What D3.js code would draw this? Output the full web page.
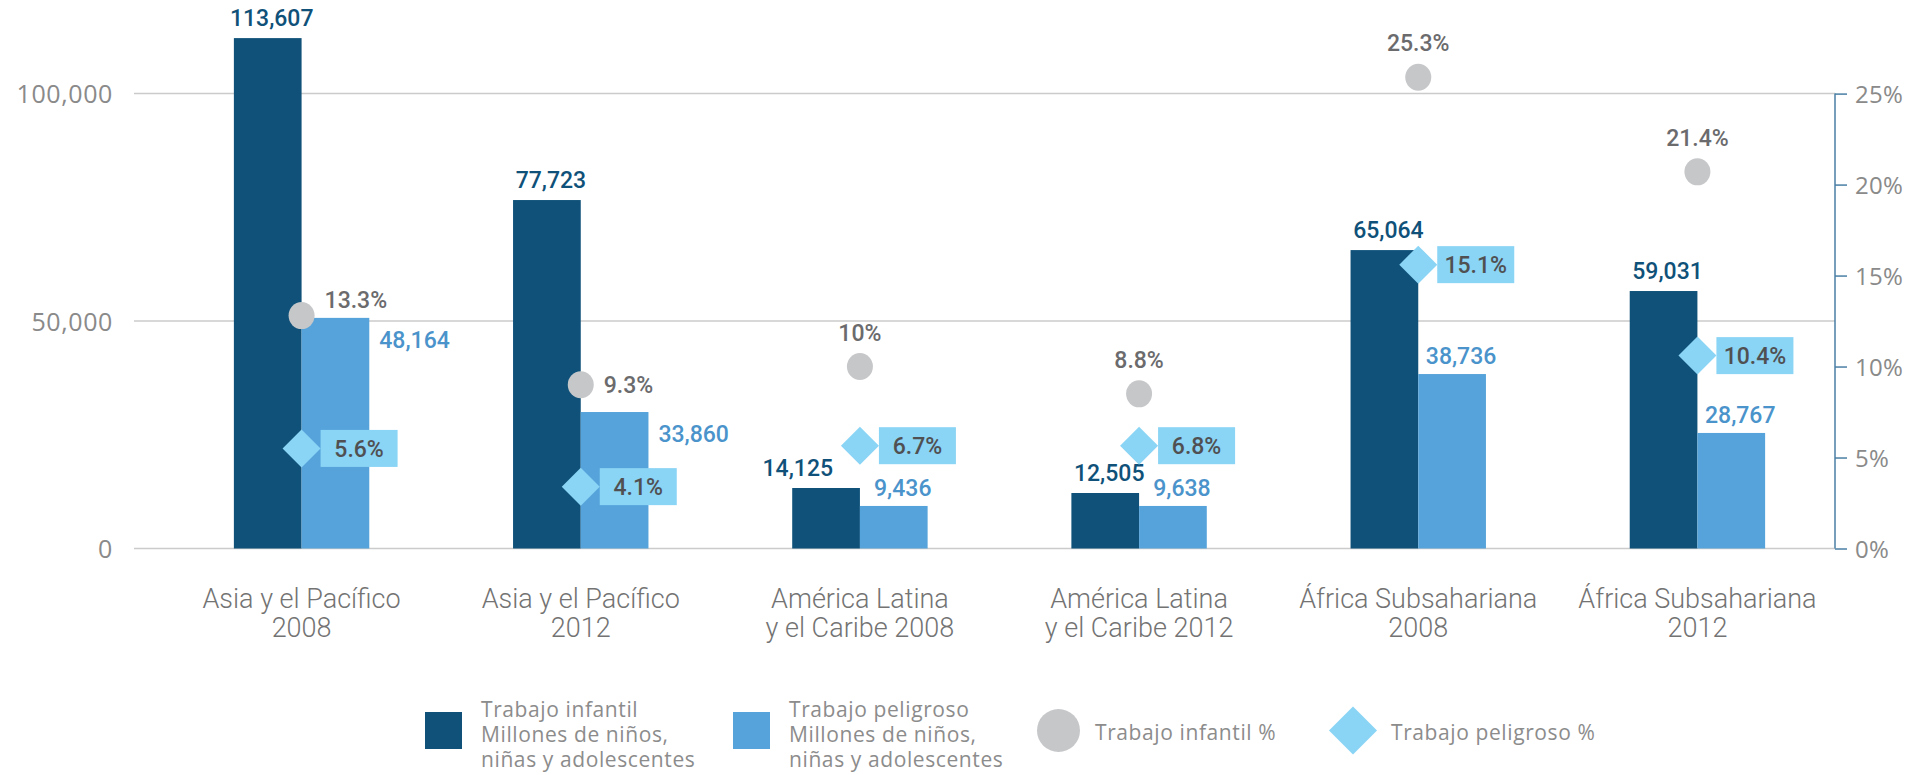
<!DOCTYPE html>
<html>
<head>
<meta charset="utf-8">
<script src="https://cdn.jsdelivr.net/npm/d3@7"></script>
<style>
  html, body { margin: 0; padding: 0; background: #fff; }
  svg { display: block; }
</style>
</head>
<body>
<svg id="chart" width="1930" height="775"></svg>
<script>
// ---------- DATA ----------
const categories = [
  ["Asia y el Pacífico", "2008"],
  ["Asia y el Pacífico", "2012"],
  ["América Latina", "y el Caribe 2008"],
  ["América Latina", "y el Caribe 2012"],
  ["África Subsahariana", "2008"],
  ["África Subsahariana", "2012"]
];
// bar heights as drawn (millions of children, axis units)
const trabajoInfantil = [112200, 76600, 13300, 12200, 65600, 56600];
const trabajoPeligroso = [50700, 30000, 9350, 9350, 38350, 25400];
// value labels printed on the chart
const trabajoInfantilLabels = ["113,607", "77,723", "14,125", "12,505", "65,064", "59,031"];
const trabajoPeligrosoLabels = ["48,164", "33,860", "9,436", "9,638", "38,736", "28,767"];
// percentage markers (right axis) as drawn
const infantilPct = [12.8, 9.0, 10.0, 8.5, 25.9, 20.7];
const peligrosoPct = [5.5, 3.4, 5.65, 5.65, 15.6, 10.6];
const infantilPctLabels = ["13.3%", "9.3%", "10%", "8.8%", "25.3%", "21.4%"];
const peligrosoPctLabels = ["5.6%", "4.1%", "6.7%", "6.8%", "15.1%", "10.4%"];
// axis ticks
const leftTicks = [0, 50000, 100000];
const leftTickLabels = ["0", "50,000", "100,000"];
const rightTicks = [0, 5, 10, 15, 20, 25];
const rightTickLabels = ["0%", "5%", "10%", "15%", "20%", "25%"];
// legend
const legendItems = [
  { type: "rect", color: "dark", lines: ["Trabajo infantil", "Millones de niños,", "niñas y adolescentes"] },
  { type: "rect", color: "light", lines: ["Trabajo peligroso", "Millones de niños,", "niñas y adolescentes"] },
  { type: "circle", color: "gray", lines: ["Trabajo infantil %"] },
  { type: "diamond", color: "sky", lines: ["Trabajo peligroso %"] }
];
// label placement styles
const infantilLabelPlacement = ["top", "top", "topLeft", "top", "top", "top"];
const peligrosoLabelPlacement = ["right", "right", "top", "top", "top", "top"];
const pctLabelPlacement = ["upRight", "right", "top", "top", "top", "top"];

// ---------- STYLE ----------
const C = {
  dark: "#0F5179", light: "#55A3DA", gray: "#C6C7C9", sky: "#8AD4F5",
  darkText: "#0F5179", lightText: "#4A93CB", grayText: "#6B6B6D", boxText: "#505052",
  axisText: "#8A8A8A", grid: "#CBCBCB", rightAxis: "#4A7FA5", catText: "#737373", legendText: "#8C8C8C"
};
const valueFont = "Roboto, 'Noto Sans', sans-serif";
const tickFont = "'Open Sans', 'Noto Sans', sans-serif";

const svg = d3.select("#chart");

const x = d3.scaleBand().domain(d3.range(categories.length)).range([162, 1837]).paddingInner(0).paddingOuter(0);
const y = d3.scaleLinear().domain([0, 100000]).range([548.5, 93.6]);
const yR = d3.scaleLinear().domain([0, 25]).range([548.5, 93.6]);
const barW = 67.7;
const cx = i => x(i) + x.bandwidth() / 2;

// ---------- GRID + LEFT AXIS ----------
const gridLeft = 134, gridRight = 1835;
svg.append("g").selectAll("line").data(leftTicks).join("line")
  .attr("x1", gridLeft).attr("x2", gridRight)
  .attr("y1", d => y(d)).attr("y2", d => y(d))
  .attr("stroke", C.grid).attr("stroke-width", 1.5);

const leftAxis = d3.axisLeft(y).tickValues(leftTicks).tickSize(0).tickPadding(0)
  .tickFormat((d, i) => leftTickLabels[i]);
const gL = svg.append("g").attr("transform", "translate(113,0)").call(leftAxis);
gL.select(".domain").remove();
gL.selectAll("text").attr("font-family", tickFont).attr("font-size", 25)
  .attr("fill", C.axisText).attr("letter-spacing", 0.6).attr("dy", "0.36em");

// ---------- RIGHT AXIS ----------
const rightAxis = d3.axisRight(yR).tickValues(rightTicks).tickSize(12).tickPadding(8)
  .tickFormat((d, i) => rightTickLabels[i]);
const gR = svg.append("g").attr("transform", `translate(${gridRight},0)`).call(rightAxis);
gR.select(".domain").attr("stroke", C.rightAxis).attr("stroke-width", 1.5)
  .attr("d", `M0,${yR(0)}V${yR(25)}`);
gR.selectAll(".tick line").attr("stroke", C.rightAxis).attr("stroke-width", 1.5);
gR.selectAll("text").attr("font-family", tickFont).attr("font-size", 24)
  .attr("fill", C.axisText).attr("letter-spacing", 0.3).attr("dy", "0.36em");

// ---------- BARS ----------
svg.append("g").selectAll("rect").data(trabajoInfantil).join("rect")
  .attr("x", (d, i) => cx(i) - barW).attr("width", barW)
  .attr("y", d => y(d)).attr("height", d => y(0) - y(d))
  .attr("fill", C.dark);
svg.append("g").selectAll("rect").data(trabajoPeligroso).join("rect")
  .attr("x", (d, i) => cx(i)).attr("width", barW)
  .attr("y", d => y(d)).attr("height", d => y(0) - y(d))
  .attr("fill", C.light);

// bar value labels
svg.append("g").selectAll("text").data(trabajoInfantil).join("text")
  .attr("x", (d, i) => infantilLabelPlacement[i] === "topLeft" ? cx(i) - barW / 2 + 7 : cx(i) - barW / 2 + 4)
  .attr("y", d => y(d) - 12)
  .attr("text-anchor", (d, i) => infantilLabelPlacement[i] === "topLeft" ? "end" : "middle")
  .attr("font-family", valueFont).attr("font-size", 23).attr("font-weight", 500)
  .attr("fill", C.darkText)
  .text((d, i) => trabajoInfantilLabels[i]);

svg.append("g").selectAll("text").data(trabajoPeligroso).join("text")
  .attr("x", (d, i) => peligrosoLabelPlacement[i] === "right" ? cx(i) + barW + 10 : cx(i) + barW / 2 + 9)
  .attr("y", (d, i) => peligrosoLabelPlacement[i] === "right" ? y(d) + 30 : y(d) - 10)
  .attr("text-anchor", (d, i) => peligrosoLabelPlacement[i] === "right" ? "start" : "middle")
  .attr("font-family", valueFont).attr("font-size", 23).attr("font-weight", 500)
  .attr("fill", C.lightText)
  .text((d, i) => trabajoPeligrosoLabels[i]);

// ---------- CIRCLES (Trabajo infantil %) ----------
const r = 13;
svg.append("g").selectAll("ellipse").data(infantilPct).join("ellipse")
  .attr("cx", (d, i) => cx(i)).attr("cy", d => yR(d))
  .attr("rx", r).attr("ry", r + 0.5)
  .attr("fill", C.gray);

svg.append("g").selectAll("text").data(infantilPct).join("text")
  .attr("x", (d, i) => pctLabelPlacement[i] === "top" ? cx(i) : cx(i) + r + 10)
  .attr("y", (d, i) => {
    const p = pctLabelPlacement[i];
    if (p === "top") return yR(d) - r - 13;
    if (p === "upRight") return yR(d) - 8;
    return yR(d) + 8;
  })
  .attr("text-anchor", (d, i) => pctLabelPlacement[i] === "top" ? "middle" : "start")
  .attr("font-family", valueFont).attr("font-size", 23).attr("font-weight", 500)
  .attr("fill", C.grayText)
  .text((d, i) => infantilPctLabels[i]);

// ---------- DIAMONDS (Trabajo peligroso %) ----------
const dh = 19, boxW = 77, boxH = 37;
const gD = svg.append("g").selectAll("g").data(peligrosoPct).join("g")
  .attr("transform", (d, i) => `translate(${cx(i)},${yR(d)})`);
gD.append("path").attr("d", `M0,${-dh}L${dh},0L0,${dh}L${-dh},0Z`).attr("fill", C.sky);
gD.append("rect").attr("x", dh).attr("y", -boxH / 2).attr("width", boxW).attr("height", boxH).attr("fill", C.sky);
gD.append("text").attr("x", dh + boxW / 2).attr("y", 8.5).attr("text-anchor", "middle")
  .attr("font-family", valueFont).attr("font-size", 23).attr("font-weight", 500)
  .attr("fill", C.boxText)
  .text((d, i) => peligrosoPctLabels[i]);

// ---------- CATEGORY LABELS ----------
const gC = svg.append("g").selectAll("text").data(categories).join("text")
  .attr("x", (d, i) => cx(i)).attr("y", 608)
  .attr("text-anchor", "middle")
  .attr("font-family", valueFont).attr("font-size", 27).attr("font-weight", 300)
  .attr("fill", C.catText);
gC.selectAll("tspan").data(d => d).join("tspan")
  .attr("x", function () { return d3.select(this.parentNode).attr("x"); })
  .attr("dy", (d, j) => j === 0 ? 0 : 29)
  .text(d => d);

// ---------- LEGEND ----------
const legendX = [425, 733, 1037, 1329];
const lg = svg.append("g").selectAll("g").data(legendItems).join("g")
  .attr("transform", (d, i) => `translate(${legendX[i]},0)`);
lg.each(function (d) {
  const g = d3.select(this);
  let textX;
  if (d.type === "rect") {
    g.append("rect").attr("x", 0).attr("y", 712).attr("width", 37).attr("height", 37).attr("fill", C[d.color]);
    textX = 56;
  } else if (d.type === "circle") {
    g.append("ellipse").attr("cx", 21.5).attr("cy", 730.5).attr("rx", 21.5).attr("ry", 21.5).attr("fill", C[d.color]);
    textX = 58;
  } else {
    g.append("path").attr("d", "M24,706.5L48,730.5L24,754.5L0,730.5Z").attr("fill", C[d.color]);
    textX = 62;
  }
  const t = g.append("text").attr("x", textX)
    .attr("y", d.lines.length === 1 ? 740 : 717)
    .attr("font-family", tickFont).attr("font-size", 21).attr("letter-spacing", 0.6)
    .attr("fill", C.legendText);
  t.selectAll("tspan").data(d.lines).join("tspan")
    .attr("x", textX).attr("dy", (l, j) => j === 0 ? 0 : 25).text(l => l);
});
</script>
</body>
</html>
